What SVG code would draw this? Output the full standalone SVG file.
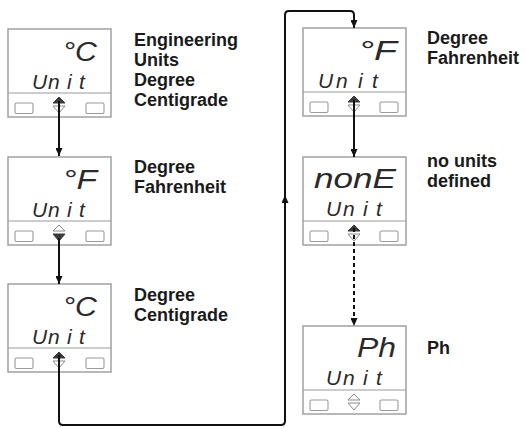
<svg xmlns="http://www.w3.org/2000/svg" width="526" height="428" viewBox="0 0 526 428">
<style>
.box{fill:#fff;stroke:#9a9a9a;stroke-width:1.4}
.div{stroke:#9a9a9a;stroke-width:1.2}
.btn{fill:#fff;stroke:#9a9a9a;stroke-width:1.1}
.ar{fill:#fff;stroke:#8a8a8a;stroke-width:1}
.on{fill:#3a3a3a;stroke:#3a3a3a;stroke-width:1}
.seg{font-family:"Liberation Sans",Arial,sans-serif;font-style:italic;fill:#2a2a2a}
.big{font-size:27px}
.unit{font-size:21px}
.lbl{font-family:"Liberation Sans",Arial,sans-serif;font-weight:bold;font-size:18px;fill:#1a1a1a}
.con{fill:none;stroke:#111;stroke-width:2}
.dash{stroke-dasharray:4 3}
</style>
<defs>
<marker id="ah" viewBox="0 0 8 7" refX="8" refY="3.5" markerWidth="8" markerHeight="7" markerUnits="userSpaceOnUse" orient="auto">
<path d="M0,0 L8,3.5 L0,7 z" fill="#111"/>
</marker>
</defs>

<g id="L1">
<rect class="box" x="8" y="29" width="103" height="88"/>
<line class="div" x1="8" y1="93" x2="111" y2="93"/>
<rect class="btn" x="15" y="103" width="18" height="10.5" rx="1.5"/>
<rect class="btn" x="86" y="103" width="18" height="10.5" rx="1.5"/>
<polygon class="on" points="53,103 59,97 65,103"/>
<polygon class="ar" points="53,106 59,113 65,106"/>
<text class="seg big" x="97" y="61" text-anchor="end" textLength="34" lengthAdjust="spacingAndGlyphs">°C</text>
<text class="seg unit" x="32 48 67 79" y="89">Unit</text>
<text class="lbl" x="134" y="46">Engineering</text>
<text class="lbl" x="134" y="66">Units</text>
<text class="lbl" x="134" y="86">Degree</text>
<text class="lbl" x="134" y="106">Centigrade</text>
</g>

<g id="L2">
<rect class="box" x="8" y="157" width="103" height="88"/>
<line class="div" x1="8" y1="221" x2="111" y2="221"/>
<rect class="btn" x="15" y="231" width="18" height="10.5" rx="1.5"/>
<rect class="btn" x="86" y="231" width="18" height="10.5" rx="1.5"/>
<polygon class="ar" points="53,231 59,225 65,231"/>
<polygon class="on" points="53,234 59,241 65,234"/>
<text class="seg big" x="97" y="189" text-anchor="end" textLength="34" lengthAdjust="spacingAndGlyphs">°F</text>
<text class="seg unit" x="32 48 67 79" y="217">Unit</text>
<text class="lbl" x="134" y="173">Degree</text>
<text class="lbl" x="134" y="193">Fahrenheit</text>
</g>

<g id="L3">
<rect class="box" x="8" y="284" width="103" height="88"/>
<line class="div" x1="8" y1="348" x2="111" y2="348"/>
<rect class="btn" x="15" y="358" width="18" height="10.5" rx="1.5"/>
<rect class="btn" x="86" y="358" width="18" height="10.5" rx="1.5"/>
<polygon class="on" points="53,358 59,352 65,358"/>
<polygon class="ar" points="53,361 59,368 65,361"/>
<text class="seg big" x="97" y="316" text-anchor="end" textLength="34" lengthAdjust="spacingAndGlyphs">°C</text>
<text class="seg unit" x="32 48 67 79" y="344">Unit</text>
<text class="lbl" x="134" y="301">Degree</text>
<text class="lbl" x="134" y="321">Centigrade</text>
</g>

<g id="R1">
<rect class="box" x="303" y="28" width="103" height="88"/>
<line class="div" x1="303" y1="92" x2="406" y2="92"/>
<rect class="btn" x="310" y="102" width="18" height="10.5" rx="1.5"/>
<rect class="btn" x="380" y="102" width="18" height="10.5" rx="1.5"/>
<polygon class="on" points="348,102 354,96 360,102"/>
<polygon class="ar" points="348,105 354,112 360,105"/>
<text class="seg big" x="397" y="60" text-anchor="end" textLength="38" lengthAdjust="spacingAndGlyphs">°F</text>
<text class="seg unit" x="318 336 358 372" y="88">Unit</text>
<text class="lbl" x="427" y="44">Degree</text>
<text class="lbl" x="427" y="64">Fahrenheit</text>
</g>

<g id="R2">
<rect class="box" x="303" y="157" width="103" height="88"/>
<line class="div" x1="303" y1="221" x2="406" y2="221"/>
<rect class="btn" x="310" y="231" width="18" height="10.5" rx="1.5"/>
<rect class="btn" x="380" y="231" width="18" height="10.5" rx="1.5"/>
<polygon class="on" points="348,231 354,225 360,231"/>
<polygon class="ar" points="348,234 354,241 360,234"/>
<text class="seg big" x="396" y="188" text-anchor="end" textLength="82" lengthAdjust="spacingAndGlyphs">nonE</text>
<text class="seg unit" x="326 343 363 376" y="216">Unit</text>
<text class="lbl" x="427" y="167">no units</text>
<text class="lbl" x="427" y="187">defined</text>
</g>

<g id="R3">
<rect class="box" x="303" y="326" width="103" height="88"/>
<line class="div" x1="303" y1="390" x2="406" y2="390"/>
<rect class="btn" x="310" y="400" width="18" height="10.5" rx="1.5"/>
<rect class="btn" x="380" y="400" width="18" height="10.5" rx="1.5"/>
<polygon class="ar" points="348,400 354,394 360,400"/>
<polygon class="ar" points="348,403 354,410 360,403"/>
<text class="seg big" x="396" y="357" text-anchor="end" textLength="39" lengthAdjust="spacingAndGlyphs">Ph</text>
<text class="seg unit" x="326 343 363 376" y="385">Unit</text>
<text class="lbl" x="427" y="354">Ph</text>
</g>

<g id="connectors">
<path class="con" d="M59,101 V156" marker-end="url(#ah)"/>
<path class="con" d="M59,238 V284" marker-end="url(#ah)"/>
<path class="con" d="M59,355 V421 Q59,425 63,425 H281 Q285,425 285,421 V15 Q285,11 289,11 H350 Q354,11 354,15 V28" marker-end="url(#ah)"/>
<path class="con" d="M285,210 V195" marker-end="url(#ah)"/>
<path class="con" d="M354,100 V157" marker-end="url(#ah)"/>
<path class="con dash" d="M354,228 V326" marker-end="url(#ah)"/>
</g>
</svg>
